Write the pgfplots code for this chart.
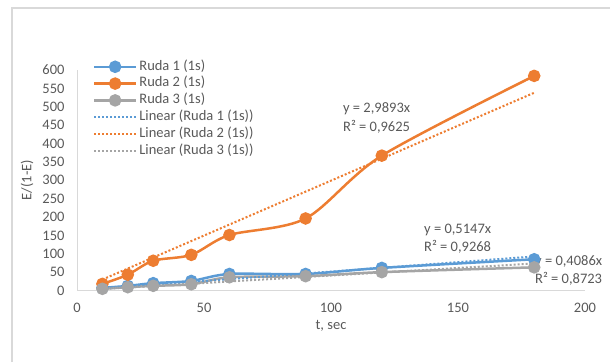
\documentclass[border=0pt]{standalone}
\usepackage{pgfplots}
\pgfplotsset{compat=1.18}
\usepackage{fontspec}
\setmainfont{Carlito}
\definecolor{cblue}{HTML}{5B9BD5}
\definecolor{corange}{HTML}{ED7D31}
\definecolor{cgray}{HTML}{A5A5A5}
\definecolor{ctext}{HTML}{595959}
\definecolor{cline}{HTML}{D9D9D9}
\begin{document}
\begin{tikzpicture}
\path[use as bounding box] (0,0) rectangle (610pt,362pt);
\draw[cline, line width=1.5pt] (12pt,0) -- (12pt,354pt) -- (610pt,354pt);
\begin{axis}[
  at={(77pt,71.5pt)}, anchor=south west,
  scale only axis, width=508pt, height=220.5pt,
  xmin=0, xmax=200, ymin=0, ymax=600,
  xtick={0,50,...,200}, ytick={0,50,...,600},
  axis lines=left, axis line style={draw=cline, line width=1pt, -},
  major tick length=0pt,
  font=\fontsize{14.5pt}{17pt}\selectfont,
  tick label style={text=ctext},
  /pgf/number format/assume math mode=true,
  yticklabel style={xshift=-9pt},
  xticklabel style={yshift=-9pt},
  xlabel={t, sec}, ylabel={E/(1-E)},
  every axis x label/.style={at={(axis description cs:0.5,-0.161)}, anchor=center, text=ctext},
  every axis y label/.style={at={(axis description cs:-0.0984,0.501)}, anchor=center, rotate=90, text=ctext},
  legend cell align=left,
  legend style={draw=none, fill=none, at={(axis description cs:0.025,1.062)}, anchor=north west,
    text=ctext, row sep=0.3pt, nodes={inner sep=2pt, text height=9.5pt, text depth=3pt}},
  legend image code/.code={\draw[#1, mark repeat=2, mark phase=2] plot coordinates {(0pt,0pt) (21pt,0pt) (42pt,0pt)};},
  clip=false,
]
\addplot[cblue, line width=2.5pt, smooth, tension=0.5, mark=*, mark size=5pt, mark options={solid}]
 coordinates {(10,7) (20,12.5) (30,20) (45,26) (60,45) (90,45) (120,61.5) (180,85)};
\addlegendentry{Ruda 1 (1s)}
\addplot[corange, line width=2.5pt, smooth, tension=0.5, mark=*, mark size=5pt, mark options={solid}]
 coordinates {(10,18) (20,43) (30,81) (45,97) (60,151) (90,196) (120,367) (180,584)};
\addlegendentry{Ruda 2 (1s)}
\addplot[cgray, line width=2.5pt, smooth, tension=0.5, mark=*, mark size=5pt, mark options={solid}]
 coordinates {(10,4.6) (20,9) (30,12.7) (45,17) (60,36) (90,39) (120,50) (180,63)};
\addlegendentry{Ruda 3 (1s)}
\addplot[cblue, line width=2pt, dash pattern=on 2pt off 2pt]
 coordinates {(10,5.147) (180,92.646)};
\addlegendentry{Linear (Ruda 1 (1s))}
\addplot[corange, line width=2pt, dash pattern=on 2pt off 2pt]
 coordinates {(10,29.893) (180,538.074)};
\addlegendentry{Linear (Ruda 2 (1s))}
\addplot[cgray, line width=2pt, dash pattern=on 2pt off 2pt]
 coordinates {(10,4.086) (180,73.548)};
\addlegendentry{Linear (Ruda 3 (1s))}
\node[anchor=west, text=ctext, inner sep=0pt] at (axis cs:104.7,494) {y = 2,9893x};
\node[anchor=west, text=ctext, inner sep=0pt] at (axis cs:104.7,445) {R² = 0,9625};
\node[anchor=west, text=ctext, inner sep=0pt] at (axis cs:136.6,165.6) {y = 0,5147x};
\node[anchor=west, text=ctext, inner sep=0pt] at (axis cs:136.6,119.5) {R² = 0,9268};
\node[anchor=west, text=ctext, inner sep=0pt] at (axis cs:180.3,78.7) {y = 0,4086x};
\node[anchor=west, text=ctext, inner sep=0pt] at (axis cs:180.3,32.6) {R² = 0,8723};
\end{axis}
\end{tikzpicture}
\end{document}
